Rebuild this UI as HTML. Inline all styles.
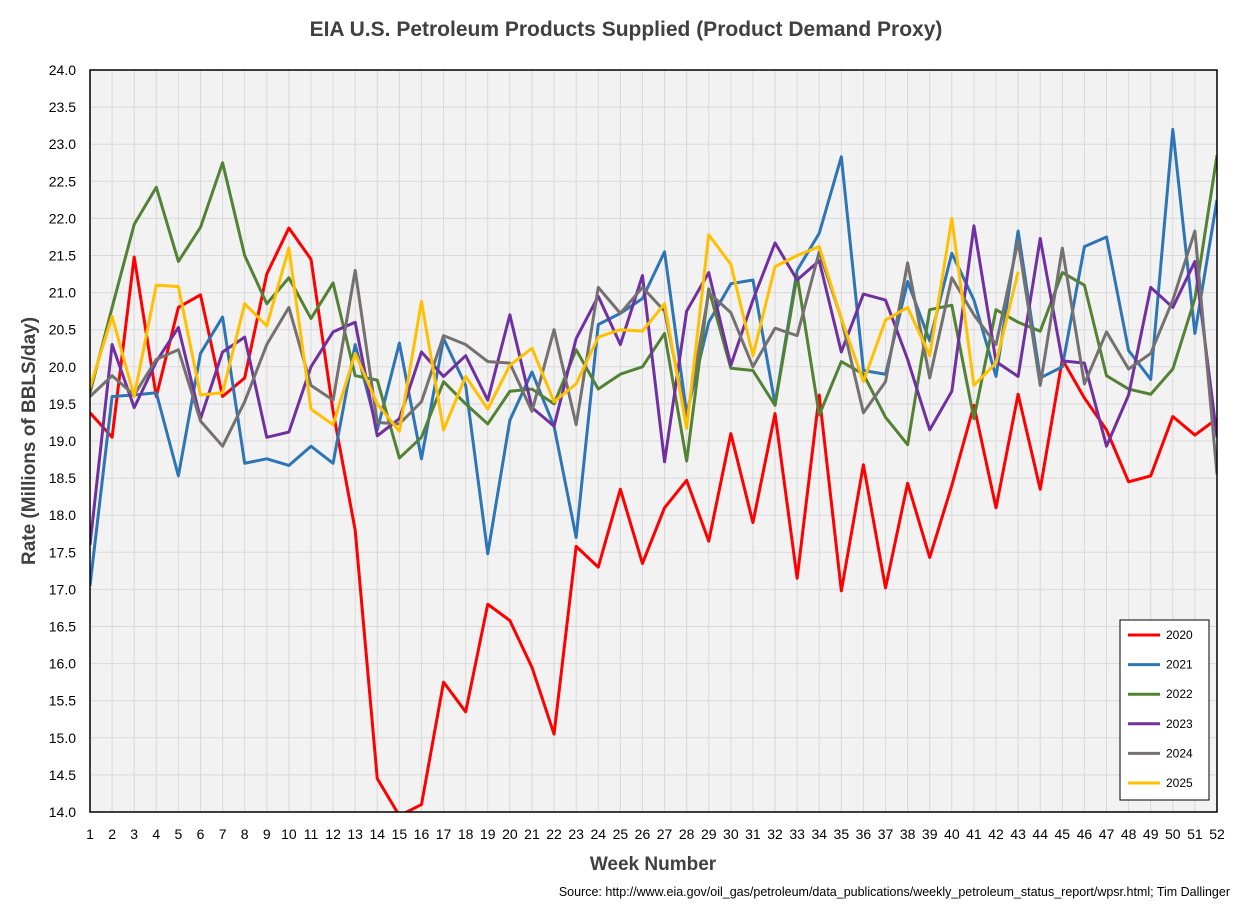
<!DOCTYPE html>
<html><head><meta charset="utf-8"><style>
body{margin:0;background:#fff;font-family:"Liberation Sans",sans-serif}
</style></head><body>
<svg id="chart" width="1253" height="905" xmlns="http://www.w3.org/2000/svg" font-family="Liberation Sans, sans-serif"></svg>
<script>
const weeks = Array.from({length:52},(_,i)=>i+1);
const yTicks = [14,14.5,15,15.5,16,16.5,17,17.5,18,18.5,19,19.5,20,20.5,21,21.5,22,22.5,23,23.5,24];
const years = ['2020','2021','2022','2023','2024','2025'];
const colors = ['#ff0000','#2e75b6','#548235','#7030a0','#767171','#ffc000'];
const s2020 = [19.38,19.05,21.48,19.6,20.8,20.97,19.6,19.85,21.25,21.87,21.45,19.4,17.8,14.45,13.95,14.1,15.75,15.35,16.8,16.58,15.95,15.05,17.58,17.3,18.35,17.35,18.1,18.47,17.65,19.1,17.9,19.37,17.15,19.62,16.98,18.68,17.02,18.43,17.43,18.4,19.48,18.1,19.63,18.35,20.1,19.58,19.15,18.45,18.53,19.33,19.08,19.3];
const s2021 = [17.05,19.6,19.62,19.65,18.53,20.18,20.67,18.7,18.76,18.67,18.93,18.7,20.3,19.15,20.32,18.76,20.38,19.75,17.48,19.28,19.93,19.2,17.7,20.57,20.72,20.92,21.55,19.37,20.6,21.12,21.17,19.5,21.3,21.8,22.83,19.95,19.9,21.15,20.35,21.53,20.9,19.87,21.83,19.85,20.0,21.62,21.75,20.22,19.83,23.2,20.45,22.25];
const s2022 = [19.65,20.8,21.92,22.42,21.42,21.88,22.75,21.5,20.85,21.2,20.65,21.13,19.88,19.82,18.77,19.05,19.8,19.5,19.23,19.67,19.7,19.5,20.23,19.7,19.9,20.0,20.45,18.73,21.05,19.98,19.95,19.48,21.23,19.35,20.07,19.9,19.32,18.95,20.77,20.83,19.3,20.77,20.6,20.48,21.27,21.1,19.88,19.7,19.63,19.97,20.92,22.85];
const s2023 = [17.6,20.3,19.45,20.07,20.53,19.3,20.2,20.4,19.05,19.12,20.0,20.47,20.6,19.07,19.3,20.2,19.87,20.15,19.55,20.7,19.45,19.2,20.38,20.95,20.3,21.23,18.72,20.75,21.27,20.02,20.9,21.67,21.17,21.43,20.2,20.98,20.9,20.1,19.15,19.67,21.9,20.07,19.87,21.73,20.08,20.05,18.93,19.62,21.07,20.8,21.42,19.05];
const s2024 = [19.6,19.88,19.62,20.1,20.23,19.27,18.93,19.53,20.3,20.8,19.75,19.55,21.3,19.25,19.23,19.53,20.42,20.3,20.07,20.05,19.4,20.5,19.22,21.07,20.72,21.07,20.75,19.3,21.0,20.73,20.0,20.52,20.42,21.55,20.65,19.38,19.8,21.4,19.85,21.2,20.7,20.3,21.7,19.75,21.6,19.77,20.47,19.97,20.18,20.9,21.83,18.55];
const s2025 = [19.72,20.68,19.6,21.1,21.08,19.62,19.65,20.85,20.55,21.6,19.43,19.22,20.18,19.5,19.13,20.88,19.15,19.87,19.43,20.02,20.25,19.53,19.77,20.4,20.5,20.48,20.85,19.17,21.78,21.38,20.15,21.35,21.5,21.62,20.65,19.8,20.63,20.8,20.15,22.0,19.75,20.05,21.28];
const series = [s2020,s2021,s2022,s2023,s2024,s2025];

const L=90,R=1217,T=70,B=812;
const xs = w => L + (w-1)*(R-L)/51;
const ys = v => B - (v-14)*(B-T)/10;
const svg = document.getElementById('chart');
const NS='http://www.w3.org/2000/svg';
function mk(tag,attrs,parent){const e=document.createElementNS(NS,tag);for(const k in attrs)e.setAttribute(k,attrs[k]);(parent||svg).appendChild(e);return e;}

const title=mk('text',{x:626,y:36,'text-anchor':'middle','font-size':21,'font-weight':'bold',fill:'#404040'});
title.textContent='EIA U.S. Petroleum Products Supplied (Product Demand Proxy)';



const bg=mk('rect',{x:L,y:T,width:R-L,height:B-T,fill:'#f2f2f2'});



const grid=mk('g',{stroke:'#d9d9d9','stroke-width':1});


yTicks.forEach(t=>{mk('line',{x1:L,x2:R,y1:ys(t),y2:ys(t)},grid);});
weeks.forEach(w=>{mk('line',{x1:xs(w),x2:xs(w),y1:T,y2:B},grid);});

const yl=mk('g',{'font-size':14,fill:'#000','text-anchor':'end'});


yTicks.forEach(t=>{const e=mk('text',{x:76,y:ys(t)+5},yl);e.textContent=t.toFixed(1);});
const xl=mk('g',{'font-size':14,fill:'#000','text-anchor':'middle'});


weeks.forEach(w=>{const e=mk('text',{x:xs(w),y:839},xl);e.textContent=w;});

mk('clipPath',{id:'clip'}).appendChild(document.createElementNS(NS,'rect'));
const cr=svg.querySelector('#clip rect');cr.setAttribute('x',L);cr.setAttribute('y',T);cr.setAttribute('width',R-L);cr.setAttribute('height',B-T);

const lines=mk('g',{'clip-path':'url(#clip)',fill:'none','stroke-width':3,'stroke-linejoin':'round'});
series.forEach((s,i)=>{
  const p=mk('polyline',{points:s.map((v,j)=>xs(j+1)+','+ys(v)).join(' '),stroke:colors[i]},lines);
  
  
});

const border=mk('rect',{x:L,y:T,width:R-L,height:B-T,fill:'none',stroke:'#000','stroke-width':1.5});



const lg=mk('g',{});


mk('rect',{x:1120,y:620,width:89,height:180,fill:'#fff',stroke:'#000','stroke-width':1},lg);
years.forEach((y,i)=>{
  const g=mk('g',{},lg);
  
  
  const cy=635+i*29.6;
  mk('line',{x1:1128,x2:1160,y1:cy,y2:cy,stroke:colors[i],'stroke-width':3},g);
  const t=mk('text',{x:1166,y:cy+4,'font-size':12,fill:'#000'},g);t.textContent=y;
});

const xt=mk('text',{x:653,y:870,'text-anchor':'middle','font-size':19,'font-weight':'bold',fill:'#404040'});
xt.textContent='Week Number';


const yt=mk('text',{x:0,y:0,'text-anchor':'middle','font-size':19,'font-weight':'bold',fill:'#404040',transform:'translate(35,441) rotate(-90)'});
yt.textContent='Rate (Millions of BBLS/day)';


const src=mk('text',{x:1230,y:896,'text-anchor':'end','font-size':12.5,fill:'#000'});
src.textContent='Source: http://www.eia.gov/oil_gas/petroleum/data_publications/weekly_petroleum_status_report/wpsr.html; Tim Dallinger';


</script>
</body></html>
